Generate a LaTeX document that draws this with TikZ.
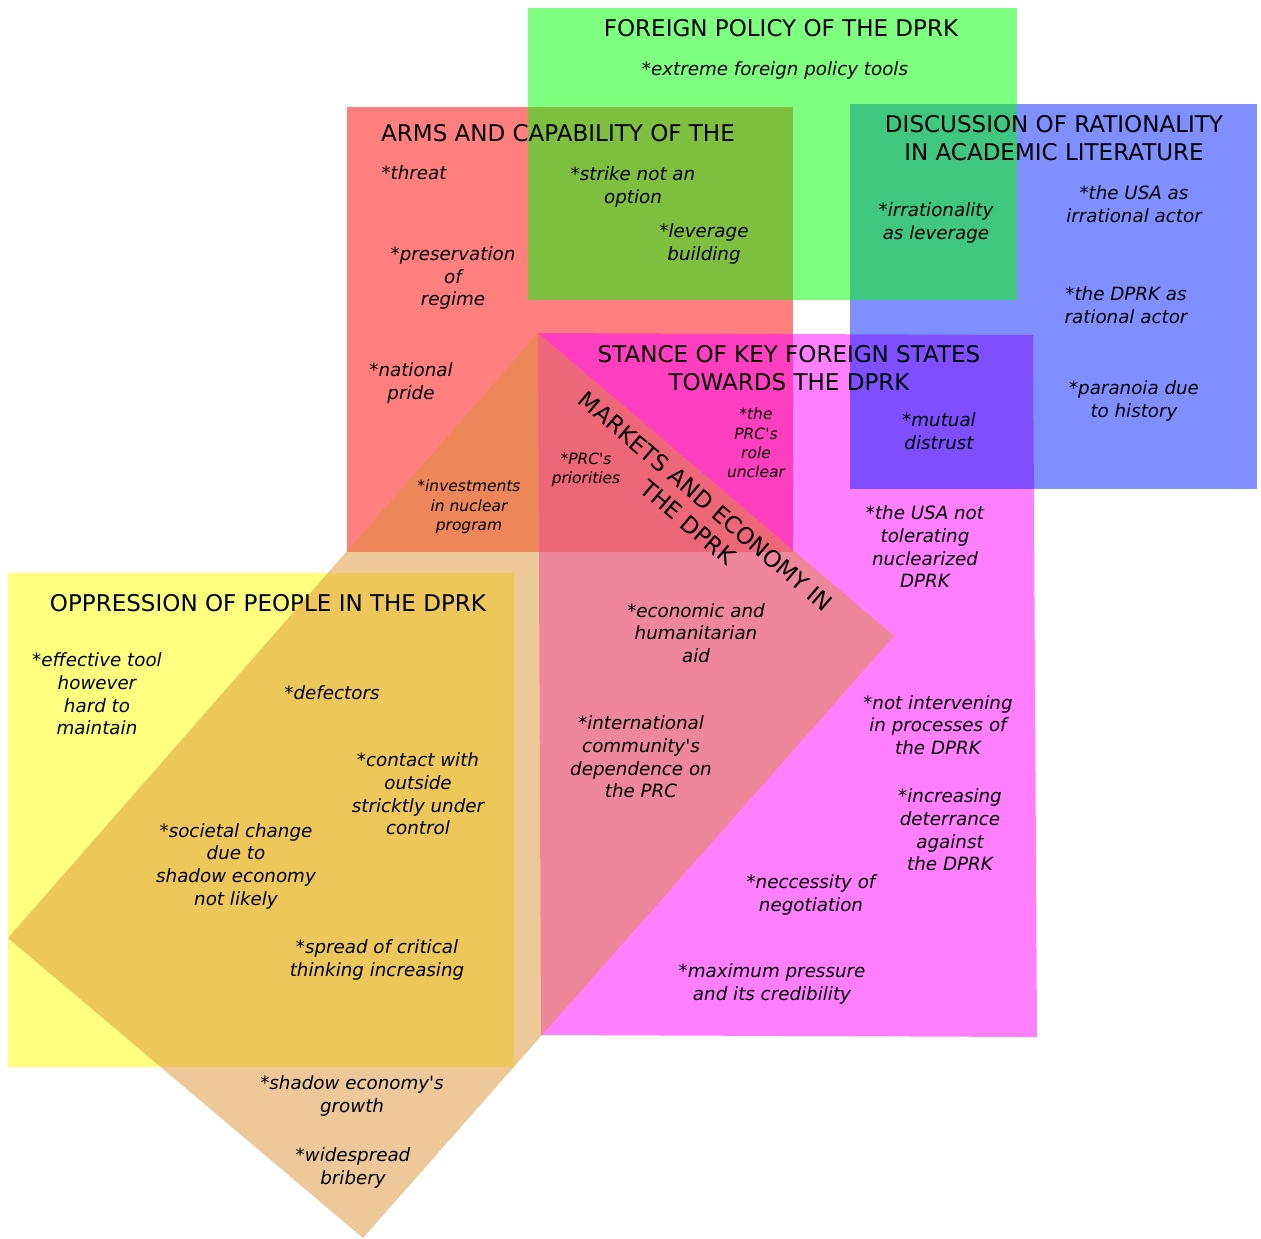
\documentclass[tikz,border=0pt]{standalone}
\usepackage{fontspec}
\setmainfont{DejaVu Sans}
\usepackage{tikz}

\definecolor{armsred}{RGB}{255,0,0}
\definecolor{policygreen}{RGB}{0,255,0}
\definecolor{ratioblue}{RGB}{0,32,255}
\definecolor{stancemag}{RGB}{255,0,255}
\definecolor{oppryellow}{RGB}{255,255,0}
\definecolor{marketorange}{RGB}{219,145,52}
\newcommand{\apos}{\textquotesingle}

\begin{document}
\begin{tikzpicture}[x=0.02cm, y=-0.02cm,
area/.style={fill opacity=0.5},
headtxt/.style={align=center,inner sep=0pt,font=\fontsize{13.1}{15.8}\selectfont},
itemtxt/.style={align=center,inner sep=0pt,font=\fontsize{10.4}{12.9}\selectfont\itshape},
smalltxt/.style={align=center,inner sep=0pt,font=\fontsize{8.8}{11}\selectfont\itshape}]
\useasboundingbox (0,0) rectangle (1261,1238);
% areas, in drawing order
\fill[armsred,area] (347,107) rectangle (793,552);
\fill[stancemag,area] (538,333) -- (1033,335) -- (1037,1037) -- (541,1035) -- cycle;
\fill[ratioblue,area] (850,104) rectangle (1257,489);
\fill[policygreen,area] (528,8) rectangle (1017,300);
\fill[oppryellow,area] (8,573) rectangle (514,1067);
\fill[marketorange,area] (538,333) -- (894,636) -- (363,1238) -- (8,938) -- cycle;
% foreign policy
\node[headtxt] (policy) at (781,28) {FOREIGN POLICY OF THE DPRK};
\node[itemtxt] (tools) at (775,70) {*extreme foreign policy tools};
% arms and capability
\node[headtxt] (arms) at (558,133) {ARMS AND CAPABILITY OF THE};
\node[itemtxt] (threat) at (414,173) {*threat};
\node[itemtxt] (strike) at (633,187) {*strike not an\\option};
\node[itemtxt] (leverage) at (704,244) {*leverage\\building};
\node[itemtxt] (regime) at (453,278) {*preservation\\of\\regime};
\node[itemtxt] (pride) at (411,383) {*national\\pride};
\node[smalltxt] (nuclear) at (469,507) {*investments\\in nuclear\\program};
\node[smalltxt] (priorities) at (586,470) {*PRC\apos s\\priorities};
\node[smalltxt] (prcrole) at (756,443) {*the\\PRC\apos s\\role\\unclear};
% rationality
\node[headtxt] (ratio) at (1054,138) {DISCUSSION OF RATIONALITY\\IN ACADEMIC LITERATURE};
\node[itemtxt] (irrat) at (936,223) {*irrationality\\as leverage};
\node[itemtxt] (usairrat) at (1134,204) {*the USA as\\irrational actor};
\node[itemtxt] (dprkrat) at (1126,305) {*the DPRK as\\rational actor};
\node[itemtxt] (paranoia) at (1134,401) {*paranoia due\\to history};
\node[itemtxt] (distrust) at (939,431) {*mutual\\distrust};
% stance of key foreign states
\node[headtxt] (stance) at (789,368) {STANCE OF KEY FOREIGN STATES\\TOWARDS THE DPRK};
\node[itemtxt] (usanot) at (925,547) {*the USA not\\tolerating\\nuclearized\\DPRK};
\node[itemtxt] (notinter) at (938,725) {*not intervening\\in processes of\\the DPRK};
\node[itemtxt] (deter) at (950,830) {*increasing\\deterrance\\against\\the DPRK};
\node[itemtxt] (negot) at (811,895) {*neccessity of\\negotiation};
\node[itemtxt] (pressure) at (772,984) {*maximum pressure\\and its credibility};
% markets and economy
\node[headtxt,rotate=-40.4] (markets) at (697,512) {MARKETS AND ECONOMY IN\\THE DPRK};
\node[itemtxt] (aid) at (696,633) {*economic and\\humanitarian\\aid};
\node[itemtxt] (depend) at (641,757) {*international\\community\apos s\\dependence on\\the PRC};
\node[itemtxt] (shadow) at (352,1096) {*shadow economy\apos s\\growth};
\node[itemtxt] (bribery) at (353,1168) {*widespread\\bribery};
% oppression of people
\node[headtxt] (oppr) at (268,603) {OPPRESSION OF PEOPLE IN THE DPRK};
\node[itemtxt] (effective) at (97,694) {*effective tool\\however\\hard to\\maintain};
\node[itemtxt] (defectors) at (332,693) {*defectors};
\node[itemtxt] (contact) at (418,794) {*contact with\\outside\\stricktly under\\control};
\node[itemtxt] (societal) at (236,866) {*societal change\\due to\\shadow economy\\not likely};
\node[itemtxt] (critical) at (377,960) {*spread of critical\\thinking increasing};
\end{tikzpicture}
\end{document}
